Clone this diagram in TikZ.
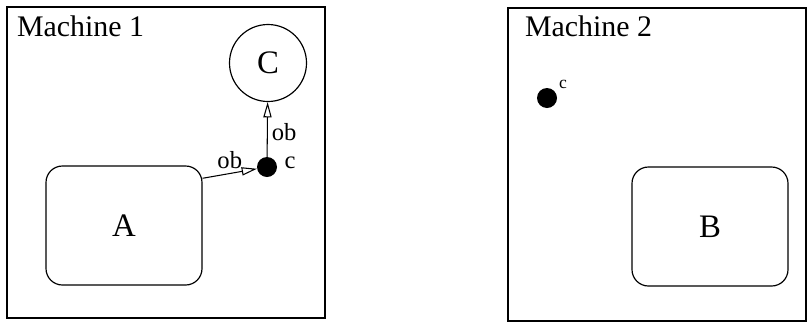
\documentclass[tikz,border=0pt]{standalone}
\usepackage{fontspec}
\setmainfont{Liberation Serif}
\usetikzlibrary{arrows.meta}

\begin{document}
\begin{tikzpicture}[x=0.03cm,y=-0.03cm]

    \tikzset{
      machine/.style={
        draw,
        line width=1pt,
      },
      objet/.style={
        draw,
        rounded corners=14pt,
        line width=1pt,
        minimum width=156*0.03cm,
        minimum height=119*0.03cm,
        font=\fontsize{28}{30}\selectfont,
      },
      canal/.style={
        circle,
        fill=black,
        inner sep=0pt,
        minimum size=20*0.03cm,
      },
      lien/.style={
        line width=0.9pt,
        -{Triangle[open,length=13pt,width=7pt]},
      },
    }

	\useasboundingbox (0,0) rectangle (808,324);

	% Machine 1
	\draw[machine] (7,7) rectangle (325,318);
	\node[anchor=west,font=\fontsize{25.5}{27}\selectfont] (m1) at (13,26) {Machine 1};
	\node[objet] (A) at (124,225.5) {A};
	\node[draw,circle,line width=1pt,minimum size=77*0.03cm,font=\fontsize{28}{30}\selectfont] (C) at (268,63) {C};
	\node[canal] (c1) at (267,167) {};
	\node[font=\fontsize{21}{23}\selectfont] (lc1) at (290,163) {c};
	\draw[lien] (A.31) -- node[above,font=\fontsize{21}{23}\selectfont] (ob1) {ob} (c1);
	\draw[lien] (c1) -- node[right,pos=0.45,font=\fontsize{21}{23}\selectfont] (ob2) {ob} (C);

	% Machine 2
	\draw[machine] (508,8) rectangle (806,321);
	\node[anchor=west,font=\fontsize{25.5}{27}\selectfont] (m2) at (521,26) {Machine 2};
	\node[objet] (B) at (710,226.5) {B};
	\node[canal] (c2) at (547,98) {};
	\node[font=\fontsize{15}{17}\selectfont] (lc2) at (563,84) {c};

\end{tikzpicture}
\end{document}
